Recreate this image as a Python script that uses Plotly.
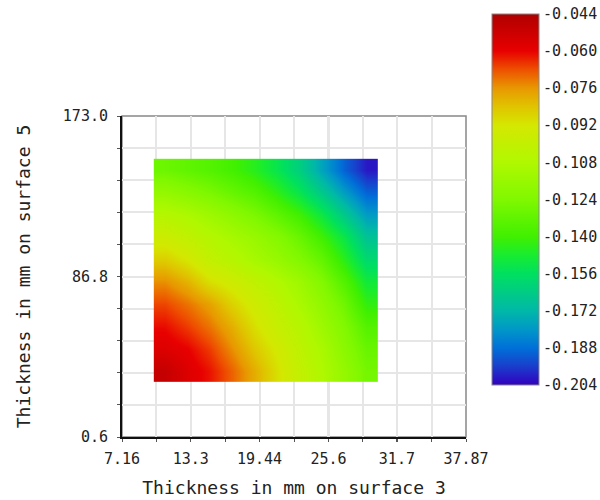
import plotly.graph_objects as go

# Cell centres (mm)
x_centers = [11, 13, 15, 17, 19, 21, 23, 25, 27, 29]
y_centers = [36, 48, 60, 72, 84, 96, 108, 120, 132, 144]

# Values, rows from bottom (y=36) to top (y=144)
z_rows = [
    [-0.050, -0.057, -0.062, -0.070, -0.080, -0.090, -0.100, -0.108, -0.117, -0.127],
    [-0.057, -0.060, -0.066, -0.075, -0.085, -0.093, -0.102, -0.110, -0.120, -0.130],
    [-0.061, -0.066, -0.072, -0.080, -0.090, -0.098, -0.105, -0.114, -0.123, -0.135],
    [-0.067, -0.072, -0.078, -0.087, -0.095, -0.102, -0.110, -0.118, -0.128, -0.143],
    [-0.075, -0.081, -0.090, -0.095, -0.101, -0.107, -0.114, -0.123, -0.135, -0.150],
    [-0.086, -0.092, -0.100, -0.105, -0.111, -0.116, -0.123, -0.131, -0.144, -0.159],
    [-0.096, -0.101, -0.106, -0.111, -0.116, -0.122, -0.130, -0.140, -0.152, -0.168],
    [-0.106, -0.109, -0.114, -0.119, -0.125, -0.132, -0.140, -0.151, -0.165, -0.179],
    [-0.117, -0.121, -0.125, -0.130, -0.135, -0.143, -0.153, -0.165, -0.178, -0.190],
    [-0.129, -0.132, -0.135, -0.139, -0.145, -0.153, -0.163, -0.177, -0.190, -0.201],
]

z_min, z_max = -0.204, -0.044
cbar_ticks = [-0.204, -0.188, -0.172, -0.156, -0.140, -0.124, -0.108,
              -0.092, -0.076, -0.060, -0.044]
cbar_ticktext = ["-0.204", "-0.188", "-0.172", "-0.156", "-0.140", "-0.124",
                 "-0.108", "-0.092", "-0.076", "-0.060", "-0.044"]

x_range = [7.16, 37.87]
x_ticks = [7.16, 13.3, 19.44, 25.6, 31.7, 37.87]
x_ticktext = ["7.16", "13.3", "19.44", "25.6", "31.7", "37.87"]
x_grid = [7.16, 10.231, 13.302, 16.373, 19.444, 22.515, 25.586, 28.657, 31.728, 34.799, 37.87]

y_range = [0.6, 173.0]
y_ticks = [0.6, 86.8, 173.0]
y_ticktext = ["0.6", "86.8", "173.0"]
y_grid = [0.6, 17.84, 35.08, 52.32, 69.56, 86.8, 104.04, 121.28, 138.52, 155.76, 173.0]

colorscale = [
    [0.00, "#3300c0"],
    [0.05, "#1a3dcc"],
    [0.10, "#0070d8"],
    [0.15, "#0098c8"],
    [0.20, "#00b8a8"],
    [0.30, "#00e060"],
    [0.35, "#18ec30"],
    [0.40, "#40f000"],
    [0.50, "#80f800"],
    [0.60, "#b0f800"],
    [0.70, "#d4e800"],
    [0.75, "#e0c400"],
    [0.80, "#e89800"],
    [0.85, "#ee5000"],
    [0.90, "#e80000"],
    [1.00, "#b00000"],
]

FONT = "DejaVu Sans Mono"

fig = go.Figure()
fig.add_trace(go.Heatmap(
    x=x_centers, y=y_centers, z=z_rows,
    zmin=z_min, zmax=z_max, zsmooth="best",
    colorscale=colorscale,
    colorbar=dict(
        x=1.0756, xanchor="left", xpad=0,
        y=1.318, yanchor="top", ypad=0,
        len=371, lenmode="pixels",
        thickness=47, thicknessmode="pixels",
        outlinewidth=1, outlinecolor="#888888",
        tickmode="array", tickvals=cbar_ticks, ticktext=cbar_ticktext,
        ticks="",
        tickfont=dict(family=FONT, size=15, color="#222222"),
    ),
))

# grey frame on top/right
fig.add_shape(type="rect", xref="paper", yref="paper", x0=0, y0=0, x1=1, y1=1,
              line=dict(color="#888888", width=1.5), layer="below")

fig.update_xaxes(
    range=x_range, tickmode="array", tickvals=x_ticks, ticktext=x_ticktext,
    showgrid=True, gridcolor="#e6e6e6", gridwidth=2,
    minor=dict(tickmode="array", tickvals=x_grid, showgrid=True,
               gridcolor="#e6e6e6", gridwidth=2, ticks="outside",
               ticklen=3, tickcolor="#555555"),
    showline=True, linecolor="#111111", linewidth=2,
    ticks="outside", ticklen=3, tickcolor="#555555",
    ticklabelstandoff=4,
    zeroline=False,
    tickfont=dict(family=FONT, size=15, color="#222222"),
    title=dict(text="Thickness in mm on surface 3",
               font=dict(family=FONT, size=18, color="#222222"), standoff=14),
)
fig.update_yaxes(
    range=y_range, tickmode="array", tickvals=y_ticks, ticktext=y_ticktext,
    showgrid=True, gridcolor="#e6e6e6", gridwidth=2,
    minor=dict(tickmode="array", tickvals=y_grid, showgrid=True,
               gridcolor="#e6e6e6", gridwidth=2, ticks="outside",
               ticklen=3, tickcolor="#555555"),
    showline=True, linecolor="#111111", linewidth=2,
    ticks="outside", ticklen=3, tickcolor="#555555",
    ticklabelstandoff=6,
    zeroline=False,
    tickfont=dict(family=FONT, size=15, color="#222222"),
    title=dict(text="Thickness in mm on surface 5",
               font=dict(family=FONT, size=18, color="#222222"), standoff=28),
)

fig.update_layout(
    width=600, height=500,
    margin=dict(l=122, r=134, t=116, b=63, autoexpand=False),
    plot_bgcolor="white", paper_bgcolor="white",
    showlegend=False,
)

fig.write_html("out.html")
